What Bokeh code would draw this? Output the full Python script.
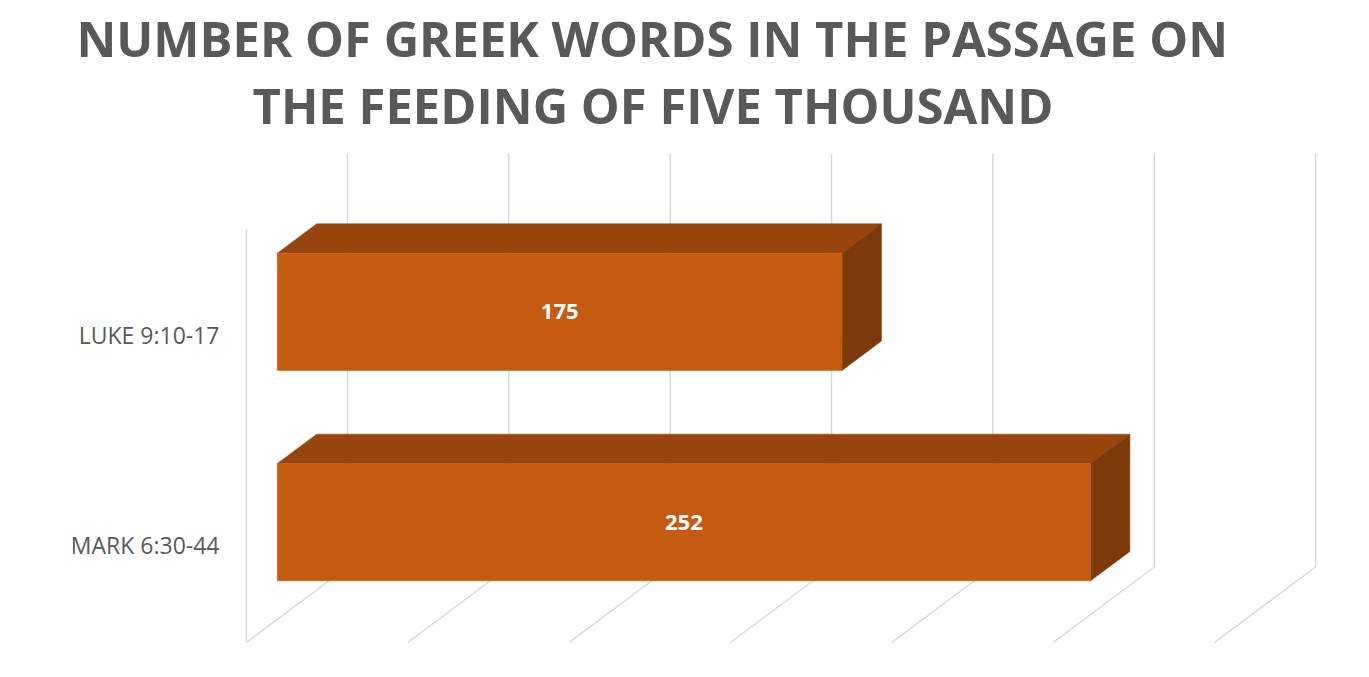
from bokeh.plotting import figure
from bokeh.models import Range1d, FixedTicker, Title, ColumnDataSource
from bokeh.embed import file_html
from bokeh.resources import INLINE
from bokeh.core.properties import value

# ---- data ----
categories = ["LUKE 9:10-17", "MARK 6:30-44"]
word_counts = [175, 252]
x_ticks = [0, 50, 100, 150, 200, 250, 300]
title_lines = ["NUMBER OF GREEK WORDS IN THE PASSAGE ON", "THE FEEDING OF FIVE THOUSAND"]

# ---- projection / layout constants ----
PX_PER_UNIT = 3.227
PX_PER_CAT = 210.4
DEPTH_X = 101 / PX_PER_UNIT
DEPTH_Y = 75.4 / PX_PER_CAT
BAR_D0, BAR_D1 = 0.305, 0.695
BAR_H = 117.3 / PX_PER_CAT
FLOOR_C, TOP_C = -0.462, 1.502

W, H = 1353, 661
FRAME_L = 232
FRAME_T = 140
frame_w = W - FRAME_L
frame_h = H - FRAME_T
ORIGIN_X = 246     # canvas x of value 0 at the front plane
ORIGIN_Y = 544.7   # canvas y of category position 0 at the front plane
x_start = (FRAME_L - ORIGIN_X) / PX_PER_UNIT
x_end = x_start + frame_w / PX_PER_UNIT
y_end = (ORIGIN_Y - FRAME_T) / PX_PER_CAT
y_start = y_end - frame_h / PX_PER_CAT

GRID = "#D9D9D9"
FRONT, TOPC, SIDE = "#C55A11", "#97450D", "#7E390B"
TXT = "#595959"

p = figure(width=W, height=H, output_backend="svg", toolbar_location=None,
           x_range=Range1d(x_start, x_end), y_range=Range1d(y_start, y_end),
           min_border_left=FRAME_L, min_border_right=0, min_border_bottom=0,
           min_border_top=FRAME_T)
p.outline_line_color = None
p.xgrid.visible = False
p.ygrid.visible = False
p.xaxis.visible = False

# ---- walls / grid ----
xs, ys = [], []
for t in x_ticks:
    xs.append([t + DEPTH_X, t + DEPTH_X]); ys.append([FLOOR_C + DEPTH_Y, TOP_C + DEPTH_Y])
    xs.append([t, t + DEPTH_X]); ys.append([FLOOR_C, FLOOR_C + DEPTH_Y])
xs.append([x_ticks[0], x_ticks[0]]); ys.append([FLOOR_C, TOP_C])
p.multi_line(xs, ys, line_color=GRID, line_width=1.5)

# ---- 3D bars ----
n = len(categories)
pos = [n - 1 - i for i in range(n)]
fx0 = BAR_D0 * DEPTH_X
fy0 = BAR_D0 * DEPTH_Y
bx0 = BAR_D1 * DEPTH_X
by0 = BAR_D1 * DEPTH_Y

front = ColumnDataSource(dict(
    left=[fx0] * n, right=[v + fx0 for v in word_counts],
    bottom=[c + fy0 - BAR_H / 2 for c in pos], top=[c + fy0 + BAR_H / 2 for c in pos]))
top_xs, top_ys, side_xs, side_ys = [], [], [], []
for v, c in zip(word_counts, pos):
    t_f = c + fy0 + BAR_H / 2
    t_b = c + by0 + BAR_H / 2
    b_f = c + fy0 - BAR_H / 2
    b_b = c + by0 - BAR_H / 2
    top_xs.append([fx0, bx0, v + bx0, v + fx0]); top_ys.append([t_f, t_b, t_b, t_f])
    side_xs.append([v + fx0, v + bx0, v + bx0, v + fx0]); side_ys.append([t_f, t_b, b_b, b_f])

p.patches(top_xs, top_ys, fill_color=TOPC, line_color=TOPC, line_width=0.5)
p.patches(side_xs, side_ys, fill_color=SIDE, line_color=SIDE, line_width=0.5)
p.quad(source=front, left="left", right="right", bottom="bottom", top="top",
       fill_color=FRONT, line_color=FRONT, line_width=0.5)

p.text(x=[v / 2 + fx0 for v in word_counts], y=[c + fy0 for c in pos],
       text=[str(v) for v in word_counts], text_color="white",
       text_font=value("Open Sans"), text_font_style="bold", text_font_size="22px",
       text_align="center", text_baseline="middle")

# ---- category axis ----
ax = p.yaxis[0]
ax.ticker = FixedTicker(ticks=pos)
ax.major_label_overrides = {c: cat for c, cat in zip(pos, categories)}
ax.axis_line_color = None
ax.major_tick_line_color = None
ax.minor_tick_line_color = None
ax.major_tick_out = 0
ax.major_tick_in = 0
ax.major_label_standoff = 13
ax.major_label_text_font = "Open Sans"
ax.major_label_text_font_size = "23px"
ax.major_label_text_color = TXT

# ---- title (two lines) ----
t2 = Title(text=title_lines[1], align="left", offset=20, text_font="Open Sans",
           text_font_style="bold", text_font_size="49px", text_color=TXT, standoff=5)
t1 = Title(text=title_lines[0], align="left", offset=-156, text_font="Open Sans",
           text_font_style="bold", text_font_size="49px", text_color=TXT, standoff=-7.4)
p.add_layout(t2, "above")
p.add_layout(t1, "above")

open("out.html", "w").write(file_html(p, INLINE))
